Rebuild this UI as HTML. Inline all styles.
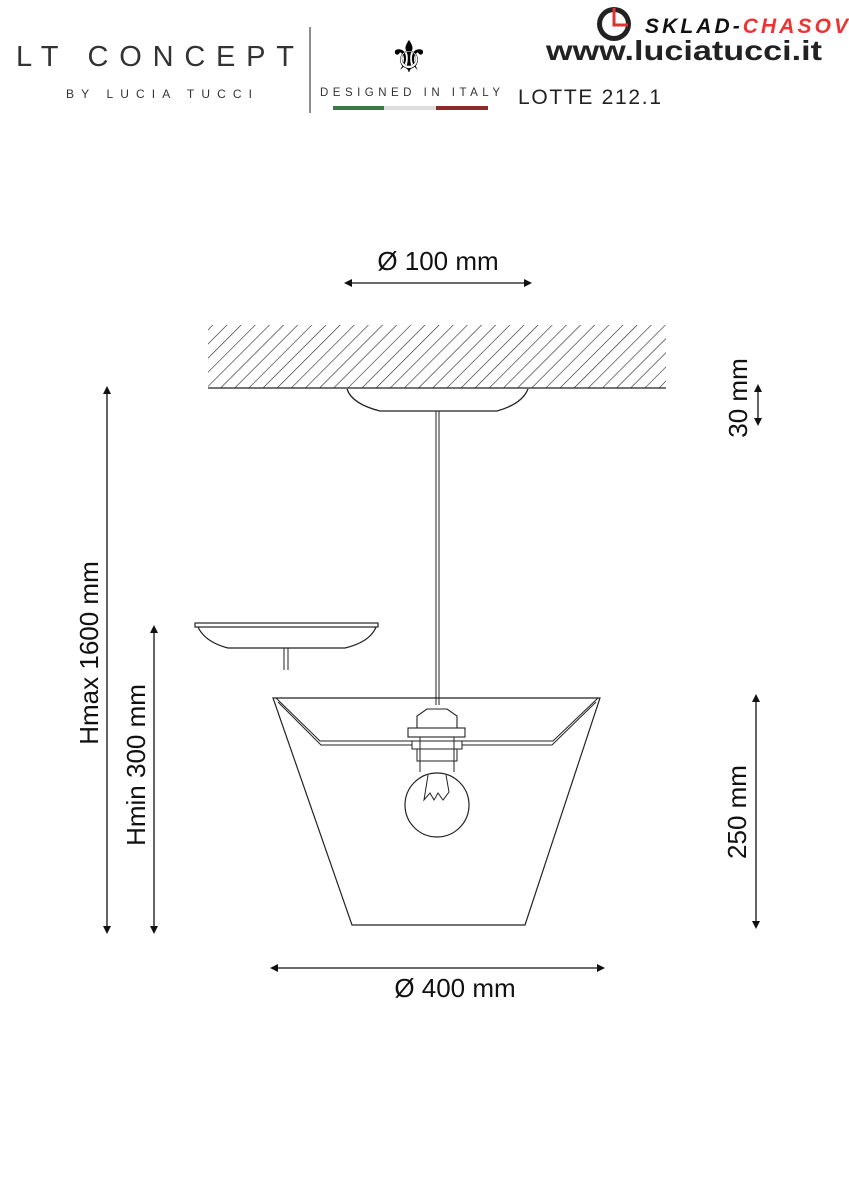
<!DOCTYPE html>
<html><head><meta charset="utf-8"><style>
html,body{margin:0;padding:0;background:#fff;width:849px;height:1200px;overflow:hidden}
</style></head><body>
<svg width="849" height="1200" viewBox="0 0 849 1200" xmlns="http://www.w3.org/2000/svg" font-family="Liberation Sans, sans-serif">
<defs>
<pattern id="h" patternUnits="userSpaceOnUse" width="10" height="10" patternTransform="rotate(45)">
<line x1="0" y1="0" x2="0" y2="10" stroke="#222" stroke-width="1.2"/>
</pattern>
<marker id="a" markerWidth="8" markerHeight="8" refX="4" refY="4" orient="auto-start-reverse" markerUnits="userSpaceOnUse">
<path d="M0,0 L8,4 L0,8 z" fill="#111"/>
</marker>
</defs>
<!-- header -->
<text x="16" y="66" font-family="Liberation Sans, sans-serif" font-size="29" textLength="278" lengthAdjust="spacing" fill="#333">LT CONCEPT</text>
<text x="66" y="98" font-size="12" textLength="186" lengthAdjust="spacing" fill="#333">BY LUCIA TUCCI</text>
<line x1="310" y1="27" x2="310" y2="113" stroke="#444" stroke-width="1.2"/>
<text x="409" y="72" font-size="44" text-anchor="middle" fill="#000">⚜</text>
<text x="320" y="96" font-size="11.5" textLength="180" lengthAdjust="spacing" fill="#333">DESIGNED IN ITALY</text>
<rect x="333" y="106" width="51" height="4" fill="#3a7a45"/>
<rect x="384" y="106" width="52" height="4" fill="#ddd"/>
<rect x="436" y="106" width="52" height="4" fill="#8a2a2a"/>
<text x="518" y="104" font-size="21" textLength="143" fill="#222">LOTTE 212.1</text>
<circle cx="614" cy="24" r="17" fill="#222"/>
<circle cx="614" cy="24" r="12" fill="#fff"/>
<path d="M614,8 L614,25 L628,25" stroke="#d33" stroke-width="3" fill="none"/>
<text x="645" y="33" font-size="21" font-weight="bold" fill="#111" font-style="italic" textLength="203">SKLAD-<tspan fill="#e33">CHASOV</tspan></text>
<text x="546" y="60" font-size="28" font-weight="bold" fill="#222" textLength="276" lengthAdjust="spacingAndGlyphs">www.luciatucci.it</text>
<!-- ceiling -->
<rect x="208" y="325" width="458" height="63" fill="url(#h)"/>
<line x1="208" y1="388" x2="666" y2="388" stroke="#222" stroke-width="1.3"/>
<!-- canopy -->
<path d="M347,389 Q352,404 380,411 L497,411 Q522,404 528,389" fill="none" stroke="#222" stroke-width="1.3"/>
<line x1="436" y1="411" x2="436" y2="705" stroke="#222" stroke-width="1"/>
<line x1="439" y1="411" x2="439" y2="705" stroke="#222" stroke-width="1"/>
<!-- second plate -->
<rect x="195" y="623" width="183" height="4" fill="none" stroke="#222" stroke-width="1.2"/>
<path d="M198,627 Q205,642 228,648 L345,648 Q370,642 376,627" fill="none" stroke="#222" stroke-width="1.2"/>
<line x1="284" y1="648" x2="284" y2="670" stroke="#222"/>
<line x1="288" y1="648" x2="288" y2="670" stroke="#222"/>
<!-- shade -->
<path d="M273,698 L600,698 L525,925 L352,925 Z" fill="none" stroke="#222" stroke-width="1.2"/>
<path d="M276,698 L320,741 L553,741 L598,698 M278,702 L321,745 L552,745 L596,702" fill="none" stroke="#222" stroke-width="1"/>
<!-- socket -->
<path d="M427,709 L447,709 L457,716 L457,728 L417,728 L417,716 Z" fill="#fff" stroke="#222" stroke-width="1.1"/>
<rect x="408" y="728" width="57" height="9" fill="#fff" stroke="#222" stroke-width="1.1"/>
<rect x="412" y="741" width="50" height="8" fill="#fff" stroke="#222" stroke-width="1"/>
<rect x="417" y="749" width="40" height="12" fill="#fff" stroke="#222" stroke-width="1"/>
<line x1="420" y1="737" x2="420" y2="772" stroke="#222"/>
<line x1="454" y1="737" x2="454" y2="772" stroke="#222"/>
<circle cx="437" cy="805" r="32" fill="#fff" stroke="#222" stroke-width="1.2"/>
<path d="M428,775 L424,800 L430,793 L434,800 L438,793 L443,800 L449,792 L446,775" fill="none" stroke="#222" stroke-width="1"/>
<!-- dimensions -->
<g stroke="#111" stroke-width="1.3" fill="none">
<line x1="348" y1="283" x2="528" y2="283" marker-start="url(#a)" marker-end="url(#a)"/>
<line x1="107" y1="390" x2="107" y2="930" marker-start="url(#a)" marker-end="url(#a)"/>
<line x1="154" y1="629" x2="154" y2="930" marker-start="url(#a)" marker-end="url(#a)"/>
<line x1="758" y1="388" x2="758" y2="422" marker-start="url(#a)" marker-end="url(#a)"/>
<line x1="756" y1="698" x2="756" y2="925" marker-start="url(#a)" marker-end="url(#a)"/>
<line x1="274" y1="968" x2="601" y2="968" marker-start="url(#a)" marker-end="url(#a)"/>
</g>
<g font-size="26" fill="#111" text-anchor="middle">
<text x="438" y="270">Ø 100 mm</text>
<text x="455" y="997">Ø 400 mm</text>
<text transform="translate(98,653) rotate(-90)">Hmax 1600 mm</text>
<text transform="translate(145,765) rotate(-90)">Hmin 300 mm</text>
<text transform="translate(747,398) rotate(-90)">30 mm</text>
<text transform="translate(746,812) rotate(-90)">250 mm</text>
</g>
</svg>
</body></html>
